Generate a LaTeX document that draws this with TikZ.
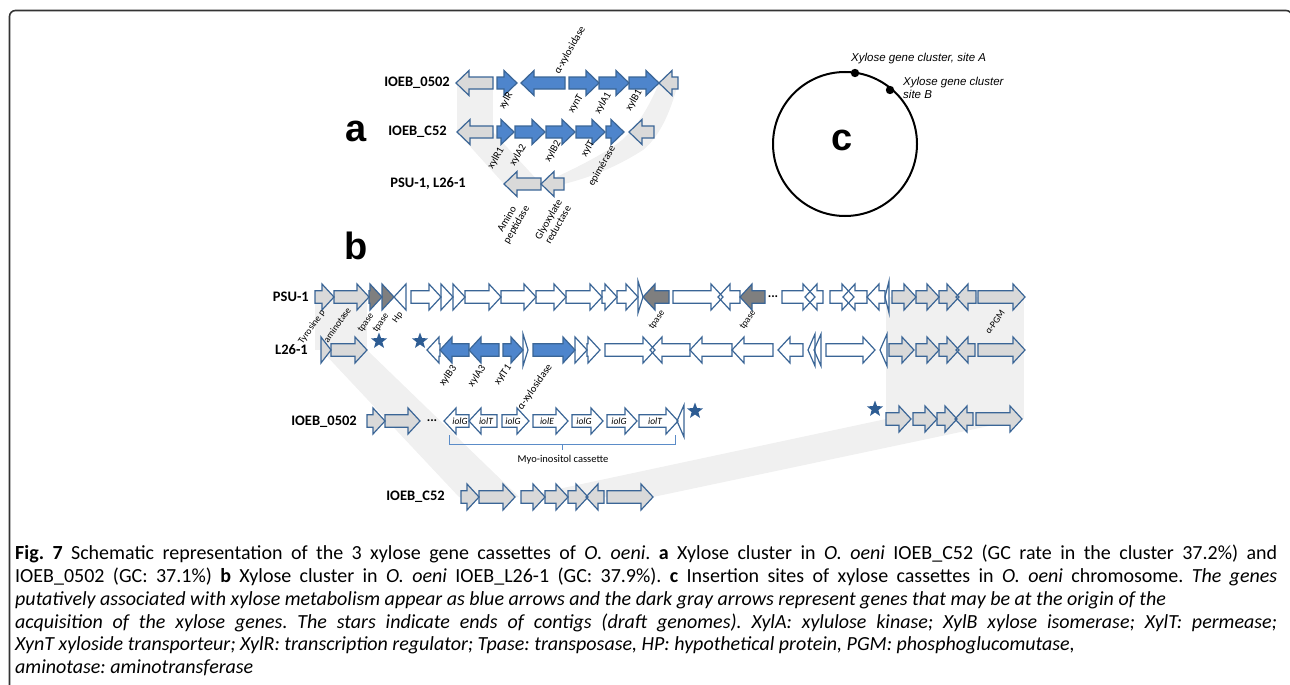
\documentclass[tikz,border=0pt]{standalone}
\usepackage{fontspec}
\setmainfont{Carlito}
\newfontfamily\arialf{Liberation Sans}
\usetikzlibrary{shapes.geometric}
\frenchspacing
\definecolor{gblue}{HTML}{4E85CC}
\definecolor{ggray}{HTML}{D9D9D9}
\definecolor{gdark}{HTML}{7F7F7F}
\definecolor{gedge}{HTML}{3A6596}
\definecolor{bandc}{HTML}{F0F0F0}
\definecolor{starc}{HTML}{2D5C93}
\definecolor{framec}{HTML}{333333}
\definecolor{bracec}{HTML}{5B8CC8}
\newif\ifoutl
\def\gh{13}\def\gb{6.3}\def\gl{12}
\newcommand\gene[5]{%
  \pgfmathsetmacro\gL{min(\gl,#2-#1)}%
  \if#4R%
    \pgfmathsetmacro\ga{#2-\gL}%
    \ifoutl
      \draw[gout] (#1,#3-\gb) -- (\ga,#3-\gb) -- (\ga,#3-\gh) -- (#2,#3) -- (\ga,#3+\gh) -- (\ga,#3+\gb) -- (#1,#3+\gb) -- cycle;
    \else
      \fill[gf#5] (#1,#3-\gb) -- (\ga,#3-\gb) -- (\ga,#3-\gh) -- (#2,#3) -- (\ga,#3+\gh) -- (\ga,#3+\gb) -- (#1,#3+\gb) -- cycle;
    \fi
  \else
    \pgfmathsetmacro\ga{#1+\gL}%
    \ifoutl
      \draw[gout] (#2,#3-\gb) -- (\ga,#3-\gb) -- (\ga,#3-\gh) -- (#1,#3) -- (\ga,#3+\gh) -- (\ga,#3+\gb) -- (#2,#3+\gb) -- cycle;
    \else
      \fill[gf#5] (#2,#3-\gb) -- (\ga,#3-\gb) -- (\ga,#3-\gh) -- (#1,#3) -- (\ga,#3+\gh) -- (\ga,#3+\gb) -- (#2,#3+\gb) -- cycle;
    \fi
  \fi}
\newcommand\tgene[5]{{\def\gh{16}\gene{#1}{#2}{#3}{#4}{#5}}}
\newcommand\allgenes{%
  % panel a
  \def\gh{12.5}\def\gb{6}\def\gl{13}%
  \gene{456}{493}{83}{L}{g}
  \gene{497}{517}{83}{R}{b}
  \gene{521}{565}{83}{L}{b}
  \gene{569}{599}{83}{R}{b}
  \gene{599}{629}{83}{R}{b}
  \gene{629}{659}{83}{R}{b}
  \gene{659}{678}{83}{L}{g}
  \gene{457}{493}{132}{L}{g}
  \gene{497}{514}{132}{R}{b}
  \gene{515}{545}{132}{R}{b}
  \gene{546}{575}{132}{R}{b}
  \gene{576}{605}{132}{R}{b}
  \gene{606}{624}{132}{R}{b}
  \gene{629}{654}{132}{L}{g}
  \gene{504}{541}{184}{L}{g}
  \gene{541}{564}{184}{L}{g}
  % panel b
  \def\gh{13}\def\gb{6.3}\def\gl{12}%
  % PSU-1
  \gene{315}{334}{297}{R}{g}
  \gene{334}{369}{297}{R}{g}
  \gene{369}{382}{297}{R}{d}
  \gene{382}{394}{297}{R}{d}
  \gene{394}{406}{297}{L}{w}
  \gene{411}{441}{297}{R}{w}
  \gene{441}{453}{297}{R}{w}
  \gene{453}{465}{297}{R}{w}
  \gene{465}{501}{297}{R}{w}
  \gene{501}{536}{297}{R}{w}
  \gene{536}{566}{297}{R}{w}
  \gene{566}{602}{297}{R}{w}
  \gene{602}{617}{297}{R}{w}
  \gene{617}{638}{297}{R}{w}
  \tgene{638}{643}{297}{R}{w}
  \gene{643}{669}{297}{L}{d}
  \gene{673}{723}{297}{R}{w}
  \gene{718}{740}{297}{L}{w}
  \gene{740}{765}{297}{L}{d}
  \gene{782}{815}{297}{R}{w}
  \gene{805}{823}{297}{L}{w}
  \gene{830}{854}{297}{R}{w}
  \gene{843}{867}{297}{L}{w}
  \gene{867}{885}{297}{L}{w}
  \tgene{885}{889}{297}{L}{w}
  \gene{892}{916}{297}{R}{g}
  \gene{916}{939}{297}{R}{g}
  \gene{939}{959}{297}{R}{g}
  \gene{956}{976}{297}{L}{g}
  \gene{978}{1025}{297}{R}{g}
  % L26-1
  \gene{321}{331}{350}{R}{g}
  \gene{331}{367}{350}{R}{g}
  \gene{427}{440}{350}{L}{w}
  \gene{440}{469}{350}{L}{b}
  \gene{469}{499}{350}{L}{b}
  \gene{503}{523}{350}{R}{b}
  \tgene{523}{528}{350}{R}{w}
  \gene{533}{575}{350}{R}{b}
  \gene{575}{587}{350}{R}{w}
  \gene{587}{600}{350}{R}{w}
  \gene{605}{655}{350}{R}{w}
  \gene{650}{690}{350}{L}{w}
  \gene{690}{732}{350}{L}{w}
  \gene{732}{773}{350}{L}{w}
  \gene{778}{803}{350}{L}{w}
  \tgene{808}{815}{350}{L}{w}
  \tgene{814}{821}{350}{L}{w}
  \gene{826}{875}{350}{R}{w}
  \tgene{880}{887}{350}{L}{w}
  \gene{889}{914}{350}{R}{g}
  \gene{916}{939}{350}{R}{g}
  \gene{939}{959}{350}{R}{g}
  \gene{956}{975}{350}{L}{g}
  \gene{978}{1025}{350}{R}{g}
  % IOEB_0502
  \gene{367}{385}{421}{R}{g}
  \gene{385}{420}{421}{R}{g}
  \gene{444}{469}{421}{L}{w}
  \gene{469}{497}{421}{L}{w}
  \gene{502}{529}{421}{R}{w}
  \gene{533}{568}{421}{R}{w}
  \gene{572}{603}{421}{R}{w}
  \gene{607}{637}{421}{R}{w}
  \gene{639}{678}{421}{R}{w}
  \tgene{677}{684}{421}{L}{w}
  \gene{886}{911}{419}{R}{g}
  \gene{913}{937}{419}{R}{g}
  \gene{937}{957}{419}{R}{g}
  \gene{955}{973}{419}{L}{g}
  \gene{976}{1022}{419}{R}{g}
  % IOEB_C52
  \gene{461}{479}{497}{R}{g}
  \gene{479}{515}{497}{R}{g}
  \gene{521}{545}{497}{R}{g}
  \gene{545}{568}{497}{R}{g}
  \gene{568}{588}{497}{R}{g}
  \gene{586}{604}{497}{L}{g}
  \gene{607}{653}{497}{R}{g}
}
\begin{document}
\begin{tikzpicture}[x=1pt,y=-1pt,
  gout/.style={draw=gedge, line width=1.2pt},
  gfb/.style={fill=gblue}, gfg/.style={fill=ggray}, gfd/.style={fill=gdark}, gfw/.style={fill=white},
  band/.style={fill=bandc},
  rowlab/.style={font=\fontsize{14.5}{16}\selectfont\bfseries, anchor=east, inner sep=0},
  alab/.style={font=\fontsize{10.5}{11}\selectfont, rotate=60, inner sep=0},
  blab/.style={font=\fontsize{9.5}{10}\selectfont, rotate=55, inner sep=0},
  clab/.style={font=\fontsize{10.5}{11}\selectfont, rotate=55, inner sep=0},
  iol/.style={font=\fontsize{9.5}{10}\selectfont\itshape, inner sep=0},
  big/.style={font=\arialf\fontsize{38}{40}\selectfont\bfseries, inner sep=0},
  ctext/.style={font=\arialf\fontsize{11.5}{13}\selectfont\itshape, inner sep=0, align=left},
  star5/.style={star, star points=5, star point ratio=2.4, fill=starc, minimum size=17pt, inner sep=0},
  dots/.style={font=\fontsize{13}{13}\selectfont\bfseries, inner sep=0},
  capl/.style={font=\fontsize{20}{23}\selectfont, anchor=base west, inner sep=0}]
\useasboundingbox (0,0) rectangle (1290,685);
% frame
\draw[framec, line width=1.6pt, rounded corners=6] (9.5,690) -- (9.5,10.5) -- (1292,10.5) -- (1292,690);
% bands panel a
\fill[band] (457,83) rectangle (493,132);
\fill[band] (457,132) -- (493,132) -- (541,184) -- (504,184) -- cycle;
\fill[band] (659,83) -- (678,83) .. controls (670,115) and (658,138) .. (643,150) .. controls (615,168) and (588,178) .. (564,184) -- (541,184) .. controls (572,170) and (603,155) .. (622,140) .. controls (640,124) and (652,100) .. (659,83) -- cycle;
% bands panel b
\fill[band] (315,297) rectangle (367,350);
\fill[band] (321,350) -- (367,350) -- (519,497) -- (459,497) -- cycle;
\fill[band] (886,297) rectangle (1024,419);
\fill[band] (886,419) -- (1022,419) -- (653,497) -- (521,497) -- cycle;
% genes: fills then outlines
\outlfalse\allgenes
\outltrue\allgenes
% panel a labels
\node[rowlab] (a1) at (450,83) {IOEB\_0502};
\node[rowlab] (a2) at (447,132) {IOEB\_C52};
\node[rowlab] (a3) at (466,184) {PSU-1, L26-1};
\node[big] (la) at (356,131) {a};
\node[alab] (xylR) at (506,101) {xylR};
\node[alab] (axyl) at (570,50) {α-xylosidase};
\node[alab] (xynT) at (576,104) {xynT};
\node[alab] (xylA1) at (603,103) {xylA1};
\node[alab] (xylB1) at (634,100) {xylB1};
\node[alab] (xylR1) at (496,158) {xylR1};
\node[alab] (xylA2) at (518,155) {xylA2};
\node[alab] (xylB2) at (553,151) {xylB2};
\node[alab] (xylT) at (588,149) {xylT};
\node[alab] (epim) at (602,166) {epimérase};
\node[alab, align=center] (amino) at (512,222) {Amino\\peptidase};
\node[alab, align=center] (glyox) at (553,222) {Glyoxylate\\reductase};
% panel c
\draw[line width=2pt] (845,144) circle[radius=72];
\fill (855,73) circle[radius=4.2];
\fill (890,90) circle[radius=4.2];
\node[big] (lc) at (842,140) {c};
\node[ctext, anchor=west] (siteA) at (851,59) {Xylose gene cluster, site A};
\node[ctext, anchor=north west] (siteB) at (903,77) {Xylose gene cluster\\site B};
% panel b labels
\node[big] (lb) at (356,246) {b};
\node[rowlab] (b1) at (309,297) {PSU-1};
\node[rowlab] (b2) at (308,350) {L26-1};
\node[rowlab] (b3) at (357,422) {IOEB\_0502};
\node[rowlab] (b4) at (445,497) {IOEB\_C52};
\node[blab] (tyr) at (312,327) {Tyrosine p};
\node[blab] (amt) at (337,325) {aminotase};
\node[blab] (tp1) at (366,323) {tpase};
\node[blab] (tp2) at (381,323) {tpase};
\node[blab] (hp) at (398,318) {Hp};
\node[blab] (tp3) at (657,320) {tpase};
\node[blab] (tp4) at (748,320) {tpase};
\node[blab] (pgm) at (995,322) {α-PGM};
\node[clab] (xylB3) at (448,376) {xylB3};
\node[clab] (xylA3) at (477,376) {xylA3};
\node[clab] (xylT1) at (503,375) {xylT1};
\node[clab] (axyl2) at (535,387) {α-xylosidase};
\node[dots] (d1) at (773,297) {...};
\node[dots] (d2) at (432,421) {...};
\node[star5] (s1) at (379,341) {};
\node[star5] (s2) at (420,341) {};
\node[star5] (s3) at (695,411) {};
\node[star5] (s4) at (875,409) {};
\node[iol] (i1) at (460,421) {iolG};
\node[iol] (i2) at (486,421) {iolT};
\node[iol] (i3) at (513,421) {iolG};
\node[iol] (i4) at (547,421) {iolE};
\node[iol] (i5) at (584,421) {iolG};
\node[iol] (i6) at (619,421) {iolG};
\node[iol] (i7) at (655,421) {iolT};
\coordinate (brL) at (449,435);
\coordinate (brR) at (675,435);
\coordinate (brC) at (562,444);
\draw[bracec, line width=0.9pt] (brL) -- (449,444) -- (675,444) -- (brR);
\draw[bracec, line width=0.9pt] (brC) -- (562,450);
\node[font=\fontsize{10.5}{11}\selectfont, inner sep=0] (myo) at (563,460) {Myo-inositol cassette};
% caption
\node[capl] (cap1) at (15,559) {\makebox[1262pt][s]{\textbf{Fig. 7} Schematic representation of the 3 xylose gene cassettes of \textit{O. oeni}. \textbf{a} Xylose cluster in \textit{O. oeni} IOEB\_C52 (GC rate in the cluster 37.2\%) and}};
\node[capl] (cap2) at (15,582) {\makebox[1262pt][s]{IOEB\_0502 (GC: 37.1\%) \textbf{b} Xylose cluster in \textit{O. oeni} IOEB\_L26-1 (GC: 37.9\%). \textbf{c} Insertion sites of xylose cassettes in \textit{O. oeni} chromosome. \textit{The genes}}};
\node[capl] (cap3) at (15,605) {\textit{putatively associated with xylose metabolism appear as blue arrows and the dark gray arrows represent genes that may be at the origin of the}};
\node[capl] (cap4) at (15,628) {\makebox[1262pt][s]{\itshape acquisition of the xylose genes. The stars indicate ends of contigs (draft genomes). XylA: xylulose kinase; XylB xylose isomerase; XylT: permease;}};
\node[capl] (cap5) at (15,650) {\textit{XynT xyloside transporteur; XylR: transcription regulator; Tpase: transposase, HP: hypothetical protein, PGM: phosphoglucomutase,}};
\node[capl] (cap6) at (15,673) {\textit{aminotase: aminotransferase}};
\end{tikzpicture}
\end{document}
